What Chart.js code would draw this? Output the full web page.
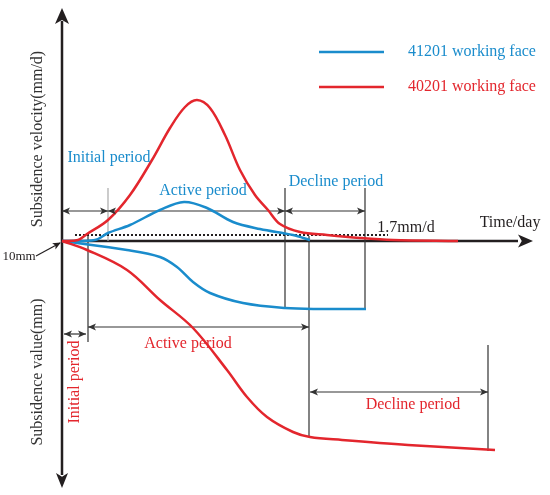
<!DOCTYPE html>
<html lang="en">
<head>
  <meta charset="UTF-8">
  <title>Subsidence stages</title>
  <script src="https://cdn.jsdelivr.net/npm/chart.js"></script>
  <style>
    body { margin: 0; background: #fff; }
    canvas { display: block; }
  </style>
</head>
<body>
  <canvas id="chart" width="550" height="495"></canvas>

  <script>
    // schematic units: x = day, y = velocity (up) / subsidence (down)
    const velDays41201 = [0, 8.25, 11.5, 17, 24.5, 30.5, 36.25, 42.75, 49.5, 57.75, 62];
    const velVals41201 = [0, 0.5, 4, 8, 15.5, 19.5, 16.5, 9.5, 6, 3, 0.5];

    const velDays40201 = [0, 4, 6.25, 11.5, 17, 22.5, 27, 30.75, 33.75, 37, 40.75, 44.5, 48.25, 51.5, 54.5, 59.5, 66.25, 74.5, 82.75, 99];
    const velVals40201 = [0, 0.5, 3.5, 10.5, 23, 40.5, 56.5, 67, 70.5, 66.5, 53, 35.5, 23, 15.5, 8.5, 4.5, 3, 1.5, 0.5, 0];

    const subDays41201 = [0, 16.25, 24.5, 28.75, 32.75, 37, 45.25, 55.75, 64.5, 76];
    const subVals41201 = [0, -4.5, -8, -13, -20.5, -26, -31, -33.5, -34, -34];

    const subDays40201 = [0, 6.25, 16.25, 24.5, 32.75, 41.25, 46.25, 51.25, 57.75, 62, 70, 86.5, 108.25];
    const subVals40201 = [0, -4.5, -14.5, -29.5, -43.5, -64.5, -78, -88, -95.5, -98, -99.5, -102, -104.5];

    const thresholdDays = [3.25, 81.5];
    const thresholdVel = 3; // 1.7mm/d

    // period arrows: [start, end, level]
    const velPeriods = [[0, 11.5, 15], [11.5, 55.75, 15], [55.75, 75.75, 15]];
    const subPeriods = [[0.5, 6, -46.5], [6.5, 61.75, -43], [62, 106.5, -75.5]];

    // vertical boundary lines
    const guideDays   = [11.5, 55.75, 75.75, 61.75, 6.5, 106.5];
    const guideTop    = [26.5, 26.5, 26.5, 2.5, 2.5, -52];
    const guideBottom = [0, -33.5, -34, -98, -50.5, -105];

    const BLUE = '#1a8ccc';
    const RED = '#e3262d';
    const INK = '#231f20';
    const SERIF = '"Liberation Serif", "DejaVu Serif", serif';

    const zip = (xs, ys) => xs.map((x, i) => ({ x: x, y: ys[i] }));

    const datasets = [
      { data: zip(velDays40201, velVals40201), borderColor: RED, borderWidth: 2.5, tension: 0.35, order: 1 },
      { data: zip(subDays40201, subVals40201), borderColor: RED, borderWidth: 2.5, tension: 0.35, order: 1 },
      { data: zip(velDays41201, velVals41201), borderColor: BLUE, borderWidth: 2.5, tension: 0.35, order: 2 },
      { data: zip(subDays41201, subVals41201), borderColor: BLUE, borderWidth: 2.5, tension: 0.35, order: 2 },
      { data: thresholdDays.map(d => ({ x: d, y: thresholdVel })), borderColor: INK, borderWidth: 2, borderDash: [2, 2], order: 3 }
    ];
    velPeriods.concat(subPeriods).forEach(p => {
      datasets.push({ data: [{ x: p[0], y: p[2] }, { x: p[1], y: p[2] }], borderColor: '#333', borderWidth: 1.2, order: 4 });
    });
    guideDays.forEach((d, i) => {
      datasets.push({
        data: [{ x: d, y: guideTop[i] }, { x: d, y: guideBottom[i] }],
        borderColor: i === 0 ? '#aaa' : '#333', borderWidth: 1.2, order: 4
      });
    });
    datasets.forEach(ds => { ds.showLine = true; ds.pointRadius = 0; });

    function arrowHead(ctx, x, y, ang, len, half) {
      ctx.save();
      ctx.translate(x, y);
      ctx.rotate(ang);
      ctx.beginPath();
      ctx.moveTo(0, 0);
      ctx.lineTo(-len, -half);
      ctx.lineTo(-len * 0.75, 0);
      ctx.lineTo(-len, half);
      ctx.closePath();
      ctx.fill();
      ctx.restore();
    }

    const schematic = {
      id: 'schematic',
      beforeDatasetsDraw(chart) {
        const ctx = chart.ctx;
        const sx = chart.scales.x, sy = chart.scales.y;
        const X = v => sx.getPixelForValue(v), Y = v => sy.getPixelForValue(v);
        ctx.save();
        ctx.strokeStyle = INK;
        ctx.fillStyle = INK;
        ctx.lineWidth = 2.5;
        ctx.beginPath();
        ctx.moveTo(X(0), Y(110));
        ctx.lineTo(X(0), Y(-117));
        ctx.moveTo(X(0), Y(0));
        ctx.lineTo(X(114), Y(0));
        ctx.stroke();
        arrowHead(ctx, X(0), Y(116.5), -Math.PI / 2, 16, 7);
        arrowHead(ctx, X(0), Y(-123.5), Math.PI / 2, 15, 6);
        arrowHead(ctx, X(117.75), Y(0), 0, 15, 6.5);
        ctx.restore();
      },
      afterDatasetsDraw(chart) {
        const ctx = chart.ctx;
        const sx = chart.scales.x, sy = chart.scales.y;
        const X = v => sx.getPixelForValue(v), Y = v => sy.getPixelForValue(v);
        ctx.save();
        ctx.fillStyle = '#333';
        velPeriods.concat(subPeriods).forEach(p => {
          arrowHead(ctx, X(p[0]), Y(p[2]), Math.PI, 8, 3.5);
          arrowHead(ctx, X(p[1]), Y(p[2]), 0, 8, 3.5);
        });

        // 10mm pointer
        ctx.strokeStyle = INK;
        ctx.fillStyle = INK;
        ctx.lineWidth = 1.2;
        ctx.beginPath();
        ctx.moveTo(X(-6.5), Y(-7.5));
        ctx.lineTo(X(-0.5), Y(-1));
        ctx.stroke();
        arrowHead(ctx, X(-0.3), Y(-0.8), Math.atan2(Y(-1) - Y(-7.5), X(-0.5) - X(-6.5)), 8, 3.5);

        // legend
        ctx.lineWidth = 2.5;
        [[BLUE, 94.5, '41201 working face'], [RED, 77, '40201 working face']].forEach(l => {
          ctx.strokeStyle = l[0];
          ctx.beginPath();
          ctx.moveTo(X(64.25), Y(l[1]));
          ctx.lineTo(X(80.5), Y(l[1]));
          ctx.stroke();
          ctx.fillStyle = l[0];
          ctx.font = '16px ' + SERIF;
          ctx.textAlign = 'left';
          ctx.textBaseline = 'middle';
          ctx.fillText(l[2], X(86.5), Y(l[1]));
        });

        const label = (txt, x, y, color, size, rot) => {
          ctx.save();
          ctx.translate(X(x), Y(y));
          if (rot) ctx.rotate(-Math.PI / 2);
          ctx.fillStyle = color;
          ctx.font = size + 'px ' + SERIF;
          ctx.textAlign = 'center';
          ctx.textBaseline = 'middle';
          ctx.fillText(txt, 0, 0);
          ctx.restore();
        };
        label('Subsidence velocity(mm/d)', -6, 51, '#333', 16, true);
        label('Subsidence value(mm)', -6, -65.5, '#333', 16, true);
        label('Initial period', 3.25, -70.5, RED, 16, true);
        label('Active period', 31.5, -51.5, RED, 16);
        label('Decline period', 87.75, -82, RED, 16);
        label('Initial period', 11.75, 41.5, BLUE, 16);
        label('Active period', 35.25, 25, BLUE, 16);
        label('Decline period', 68.5, 29.5, BLUE, 16);
        label('1.7mm/d', 86, 6.5, INK, 16);
        label('Time/day', 112, 9, INK, 16);
        label('10mm', -10.75, -8, INK, 13);
        ctx.restore();
      }
    };

    new Chart(document.getElementById('chart'), {
      type: 'scatter',
      data: { datasets: datasets },
      options: {
        responsive: false,
        animation: false,
        layout: { padding: 0 },
        plugins: { legend: { display: false }, tooltip: { enabled: false } },
        scales: {
          x: { type: 'linear', display: false, min: -15.5, max: 122 },
          y: { type: 'linear', display: false, min: -127, max: 120.5 }
        }
      },
      plugins: [schematic]
    });
  </script>
</body>
</html>
